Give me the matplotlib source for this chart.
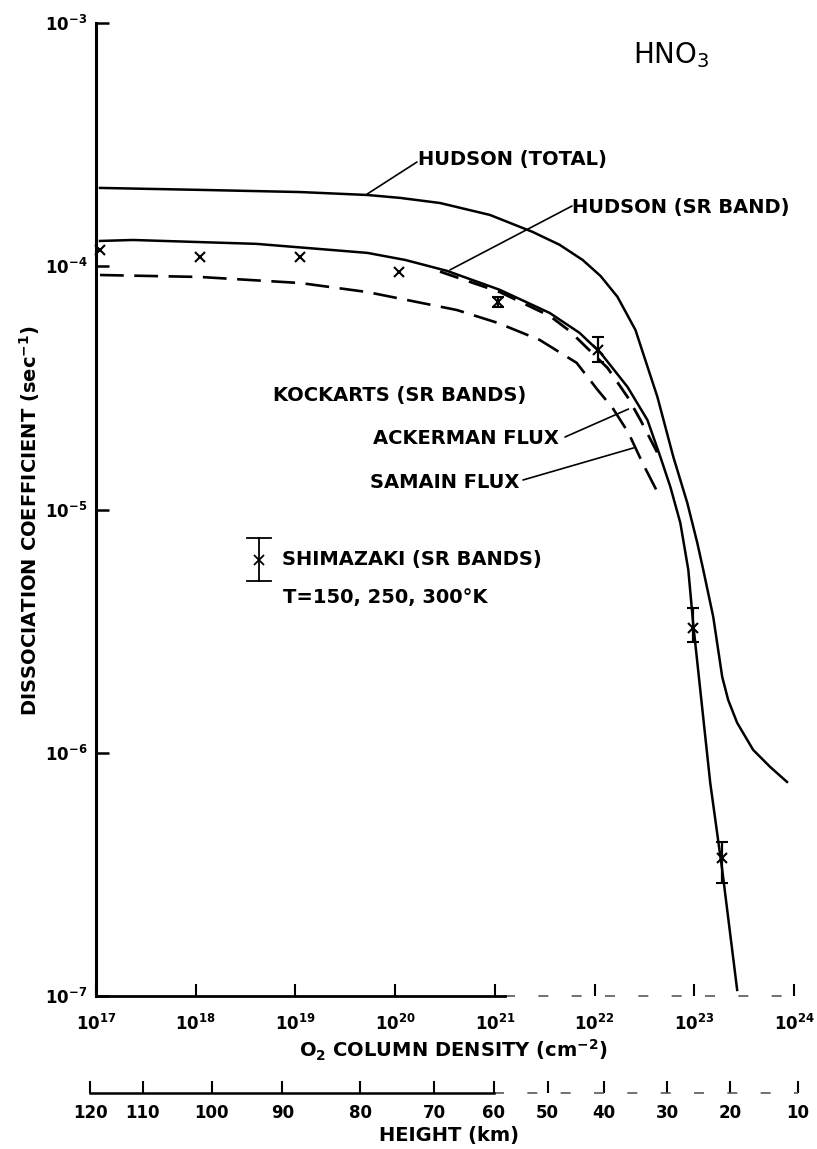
import numpy as np
import matplotlib
matplotlib.use("Agg")
import matplotlib.pyplot as plt
from matplotlib.ticker import NullLocator

plt.rcParams["font.family"] = "DejaVu Sans"
plt.rcParams["font.weight"] = "bold"
plt.rcParams["mathtext.default"] = "regular"

# ---- data (log10 of O2 column density, log10 of J) ----
total_logn = [17.04, 18.04, 19.05, 19.72, 20.05, 20.45, 20.95, 21.38, 21.65, 21.88, 22.06,
              22.23, 22.41, 22.63, 22.79, 22.93, 23.03, 23.09, 23.19, 23.28, 23.34,
              23.43, 23.59, 23.76, 23.93]
total_logj = [-3.678, -3.686, -3.695, -3.707, -3.719, -3.740, -3.789, -3.859, -3.912, -3.974, -4.040,
              -4.126, -4.262, -4.537, -4.784, -4.973, -5.137, -5.248, -5.441, -5.688, -5.783,
              -5.877, -5.988, -6.058, -6.120]

sr_logn = [17.04, 17.37, 18.61, 19.72, 20.10, 20.52, 21.05, 21.55, 21.85, 22.06, 22.33, 22.53,
           22.66, 22.76, 22.86, 22.94, 22.99, 23.16, 23.28, 23.43]
sr_logj = [-3.896, -3.892, -3.908, -3.945, -3.974, -4.019, -4.097, -4.192, -4.274, -4.356, -4.496, -4.632,
           -4.784, -4.907, -5.055, -5.248, -5.474, -6.124, -6.481, -6.975]

ackerman_logn = [20.45, 21.05, 21.55, 21.75, 22.13, 22.33, 22.46, 22.63]
ackerman_logj = [-4.022, -4.106, -4.204, -4.266, -4.418, -4.537, -4.632, -4.767]

samain_logn = [17.04, 18.04, 19.05, 19.72, 20.62, 21.03, 21.45, 21.82, 22.03, 22.18, 22.34, 22.48, 22.63]
samain_logj = [-4.036, -4.044, -4.069, -4.106, -4.180, -4.233, -4.303, -4.397, -4.508, -4.582, -4.685,
               -4.808, -4.928]

# Shimazaki points without error bars
shim_n = [1.1e17, 1.1e18, 1.1e19, 1.1e20]
shim_j = [1.17e-4, 1.09e-4, 1.09e-4, 9.5e-5]
# Shimazaki points with error bars
shimeb_n = [1.07e21, 1.07e22, 9.8e22, 1.9e23]
shimeb_j = [7.13e-5, 4.53e-5, 3.26e-6, 3.7e-7]
shimeb_hi = [7.48e-5, 5.12e-5, 3.94e-6, 4.3e-7]
shimeb_lo = [6.80e-5, 4.05e-5, 2.86e-6, 2.92e-7]

xtick_exp = [17, 18, 19, 20, 21, 22, 23, 24]
ytick_exp = [-7, -6, -5, -4, -3]

heights = [120, 110, 100, 90, 80, 70, 60, 50, 40, 30, 20, 10]
height_logn = [16.94, 17.47, 18.16, 18.87, 19.65, 20.39, 20.99, 21.53, 22.09, 22.73, 23.36, 24.04]

W, H = 817, 1149
DEC = 698 / 7.0


def fx(x):
    return x / W


def fy(y):
    return 1 - y / H


fig = plt.figure(figsize=(W / 100, H / 100), dpi=100)
ax = fig.add_axes([fx(96), fy(996), 698 / W, (996 - 23) / H])
ax.set_xscale("log")
ax.set_yscale("log")
ax.set_xlim(1e17, 1e24)
ax.set_ylim(1e-7, 1e-3)

for s in ["top", "right"]:
    ax.spines[s].set_visible(False)
ax.spines["left"].set_linewidth(2.2)
ax.spines["bottom"].set_linewidth(2.0)
ax.spines["bottom"].set_bounds(1e17, 10 ** 21.1)
# broken remainder of the base line
ax.plot([10 ** 21.1, 1e24], [1e-7, 1e-7], color="0.35", lw=1.2,
        linestyle=(0, (6, 14)), clip_on=False)

ax.set_xticks([10.0 ** e for e in xtick_exp])
ax.set_xticklabels(["$10^{%d}$" % e for e in xtick_exp])
ax.set_yticks([10.0 ** e for e in ytick_exp])
ax.set_yticklabels(["$10^{%d}$" % e for e in ytick_exp])
ax.xaxis.set_minor_locator(NullLocator())
ax.yaxis.set_minor_locator(NullLocator())
ax.tick_params(axis="x", direction="in", length=8.5, width=1.5, pad=13, labelsize=12)
ax.tick_params(axis="y", direction="in", length=9.5, width=1.8, pad=6, labelsize=12)

# curves
ax.plot(10.0 ** np.array(total_logn), 10.0 ** np.array(total_logj), color="black", lw=1.8)
ax.plot(10.0 ** np.array(sr_logn), 10.0 ** np.array(sr_logj), color="black", lw=1.8)
ax.plot(10.0 ** np.array(ackerman_logn), 10.0 ** np.array(ackerman_logj), color="black",
        lw=2.0, dashes=(7, 4))
ax.plot(10.0 ** np.array(samain_logn), 10.0 ** np.array(samain_logj), color="black",
        lw=1.9, dashes=(9, 4))

# Shimazaki
ax.plot(shim_n, shim_j, "x", color="black", ms=7, mew=1.5, clip_on=False)
yerr = [np.array(shimeb_j) - np.array(shimeb_lo), np.array(shimeb_hi) - np.array(shimeb_j)]
ax.errorbar(shimeb_n, shimeb_j, yerr=yerr, fmt="x", color="black", ms=7, mew=1.5,
            elinewidth=1.6, capsize=4.5, capthick=1.6)

# legend glyph for Shimazaki
lx, ly0, ly1, lyc, cw = 0.2335, 0.4265, 0.4707, 0.4481, 0.0172
ax.plot([lx, lx], [ly0, ly1], color="black", lw=1.3, transform=ax.transAxes)
ax.plot([lx - cw, lx + cw], [ly0, ly0], color="black", lw=1.3, transform=ax.transAxes)
ax.plot([lx - cw, lx + cw], [ly1, ly1], color="black", lw=1.3, transform=ax.transAxes)
ax.plot([lx], [lyc], "x", color="black", ms=7, mew=1.3, transform=ax.transAxes)

# labels
fs = 14
fig.text(fx(418), fy(160), "HUDSON (TOTAL)", fontsize=fs, va="center")
fig.text(fx(572), fy(207), "HUDSON (SR BAND)", fontsize=fs, va="center")
fig.text(fx(273), fy(395), "KOCKARTS (SR BANDS)", fontsize=fs, va="center")
fig.text(fx(373), fy(438), "ACKERMAN FLUX", fontsize=fs, va="center")
fig.text(fx(370), fy(482), "SAMAIN FLUX", fontsize=fs, va="center")
fig.text(fx(282), fy(560), "SHIMAZAKI (SR BANDS)", fontsize=fs, va="center")
fig.text(fx(283), fy(598), "T=150, 250, 300°K", fontsize=fs, va="center")
fig.text(fx(633), fy(55), "HNO$_3$", fontsize=20, fontweight="normal", va="center")

# leader lines
leaders = [((417, 162), (19.72, -3.703)),
           ((572, 206), (20.55, -4.015)),
           ((565, 437), (22.34, -4.587)),
           ((523, 480), (22.39, -4.747))]
for (tx, ty), (ln, lj) in leaders:
    ax.annotate("", xy=(10 ** ln, 10 ** lj), xycoords="data",
                xytext=(fx(tx), fy(ty)), textcoords="figure fraction",
                arrowprops=dict(arrowstyle="-", lw=1.2, color="black",
                                shrinkA=0, shrinkB=0))

fig.text(fx(453), fy(1050), "O$_2$ COLUMN DENSITY (cm$^{-2}$)", fontsize=fs,
         ha="center", va="center")
fig.text(fx(30), fy(521), "DISSOCIATION COEFFICIENT (sec$^{-1}$)", fontsize=14,
         ha="center", va="center", rotation=90)

# height scale
hx = fig.add_axes([fx(96 - 0.1 * DEC), fy(1093), 7.2 * DEC / W, 1e-4])
hx.set_xscale("log")
hx.set_xlim(10 ** 16.9, 10 ** 24.1)
for s in ["top", "right", "left"]:
    hx.spines[s].set_visible(False)
hx.spines["bottom"].set_linewidth(1.8)
hx.spines["bottom"].set_bounds(10 ** 16.94, 10 ** 20.99)
hx.plot([10 ** 20.99, 10 ** 24.04], [0.5, 0.5], color="0.35", lw=1.2,
        linestyle=(0, (6, 14)), clip_on=False)
hx.set_ylim(0.5, 1)
hx.set_yticks([])
hx.set_xticks([10.0 ** v for v in height_logn])
hx.set_xticklabels([str(h) for h in heights])
hx.xaxis.set_minor_locator(NullLocator())
hx.tick_params(axis="x", direction="in", length=8.5, width=1.5, pad=8, labelsize=12)
hx.patch.set_visible(False)
fig.text(fx(449), fy(1135), "HEIGHT (km)", fontsize=fs, ha="center", va="center")

fig.savefig("out.png", dpi=100)
